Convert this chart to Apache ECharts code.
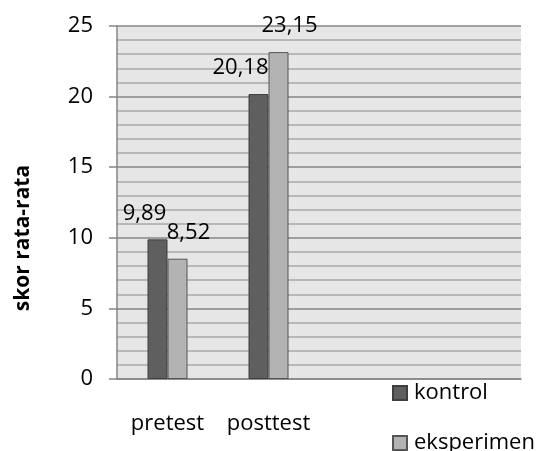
<!DOCTYPE html>
<html><head><meta charset="utf-8">
<script src="https://cdn.jsdelivr.net/npm/echarts@6/dist/echarts.min.js"></script>
<style>html,body{margin:0;padding:0;background:#fff}#c{width:536px;height:451px}</style>
</head><body><div id="c"></div>
<script>
const categories = ['pretest', 'posttest', '', ''];
const kontrol = [9.89, 20.18];
const eksperimen = [8.52, 23.15];
const seriesNames = ['kontrol', 'eksperimen'];
const yTitle = 'skor rata-rata';
const FONT = 'Open Sans';
const FS = 22;
const fmt = p => String(p.value).replace('.', ',');
const kontrolOffsets = [[-13, 0], [-18, 0]];
const eksperimenOffsets = [[11, 0], [11, 0]];
const legendText = {fontFamily: FONT, fontSize: FS, color: '#000', padding: [0, 0, 0, 2]};
const chart = echarts.init(document.getElementById('c'), null, {renderer: 'canvas'});
chart.setOption({
  animation: false,
  textStyle: {fontFamily: FONT},
  grid: {left: 117, right: 15, top: 26, bottom: 72, show: true, backgroundColor: '#e6e6e6', borderWidth: 0},
  legend: [
    {left: 387, top: 377, itemWidth: 14, itemHeight: 14, icon: 'rect', textStyle: legendText, data: [seriesNames[0]]},
    {left: 387, top: 427, itemWidth: 14, itemHeight: 14, icon: 'rect', textStyle: legendText, data: [seriesNames[1]]}
  ],
  xAxis: {
    type: 'category', data: categories,
    axisLine: {lineStyle: {color: '#868686', width: 1.5}},
    axisTick: {show: false},
    axisLabel: {fontFamily: FONT, fontSize: FS, color: '#000', margin: 34, interval: 0}
  },
  yAxis: {
    type: 'value', min: 0, max: 25, interval: 5,
    axisLine: {show: true, lineStyle: {color: '#868686', width: 1.5}},
    axisTick: {show: true, inside: false, length: 8, lineStyle: {color: '#868686', width: 1.5}},
    axisLabel: {fontFamily: FONT, fontSize: FS, color: '#000', margin: 24},
    splitLine: {lineStyle: {color: '#868686', width: 1.5}},
    minorTick: {show: false, splitNumber: 5},
    minorSplitLine: {show: true, lineStyle: {color: '#a9a9a9', width: 1.5}}
  },
  graphic: [{
    type: 'text', x: 23, y: 238, rotation: Math.PI / 2,
    style: {text: yTitle, font: 'bold 21px "Open Sans"', fill: '#000', textAlign: 'center', textVerticalAlign: 'middle'}
  }],
  series: [
    {
      name: seriesNames[0], type: 'bar', barWidth: 20, barGap: '0%',
      data: kontrol.map((v, i) => ({value: v, label: {offset: kontrolOffsets[i]}})),
      itemStyle: {color: '#5f5f5f', borderColor: '#3f3f3f', borderWidth: 1},
      label: {show: true, position: 'top', distance: 15, formatter: fmt, fontFamily: FONT, fontSize: FS, color: '#000'}
    },
    {
      name: seriesNames[1], type: 'bar', barWidth: 20, barGap: '0%',
      data: eksperimen.map((v, i) => ({value: v, label: {offset: eksperimenOffsets[i]}})),
      itemStyle: {color: '#b3b3b3', borderColor: '#555555', borderWidth: 1},
      label: {show: true, position: 'top', distance: 15, formatter: fmt, fontFamily: FONT, fontSize: FS, color: '#000'}
    }
  ]
});
</script></body></html>
